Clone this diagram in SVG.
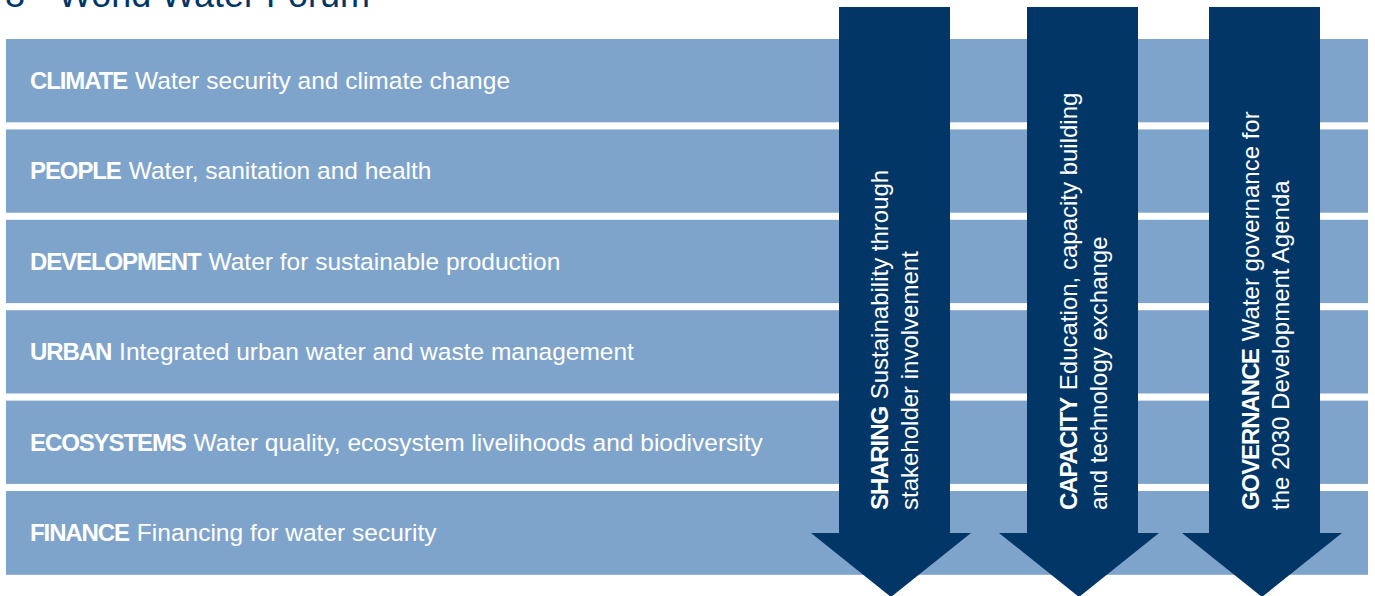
<svg xmlns="http://www.w3.org/2000/svg" width="1375" height="596" viewBox="0 0 1375 596">
<style>
.band{fill:#7FA4CB}
.arrow{fill:#023667}
.t{font-family:"Liberation Sans",Arial,sans-serif;font-size:24px;fill:#ffffff}
.b{font-weight:bold;letter-spacing:-1.1px}
.r{font-size:24.5px}
.title{font-family:"Liberation Sans",Arial,sans-serif;font-size:36px;fill:#023667}
</style>
<rect width="1375" height="596" fill="#ffffff"/>
<g id="title">
<text class="title" x="5" y="7">8</text>
<text class="title" x="58" y="7">World Water Forum</text>
</g>
<g id="band-climate">
<rect class="band" x="6" y="39" width="1362" height="83.3"/>
<text class="t" x="30" y="89"><tspan class="b">CLIMATE</tspan><tspan class="r" dx="1.1"> Water security and climate change</tspan></text>
</g>
<g id="band-people">
<rect class="band" x="6" y="129.4" width="1362" height="83.3"/>
<text class="t" x="30" y="179.4"><tspan class="b">PEOPLE</tspan><tspan class="r" dx="1.1"> Water, sanitation and health</tspan></text>
</g>
<g id="band-development">
<rect class="band" x="6" y="219.8" width="1362" height="83.3"/>
<text class="t" x="30" y="269.8"><tspan class="b">DEVELOPMENT</tspan><tspan class="r" dx="1.1"> Water for sustainable production</tspan></text>
</g>
<g id="band-urban">
<rect class="band" x="6" y="310.2" width="1362" height="83.3"/>
<text class="t" x="30" y="360.2"><tspan class="b">URBAN</tspan><tspan class="r" dx="1.1"> Integrated urban water and waste management</tspan></text>
</g>
<g id="band-ecosystems">
<rect class="band" x="6" y="400.6" width="1362" height="83.3"/>
<text class="t" x="30" y="450.6"><tspan class="b">ECOSYSTEMS</tspan><tspan class="r" dx="1.1"> Water quality, ecosystem livelihoods and biodiversity</tspan></text>
</g>
<g id="band-finance">
<rect class="band" x="6" y="491" width="1362" height="83.8"/>
<text class="t" x="30" y="541"><tspan class="b">FINANCE</tspan><tspan class="r" dx="1.1"> Financing for water security</tspan></text>
</g>
<g id="arrow-sharing">
<path class="arrow" d="M839,7 H950 V533 H971 L891,597 L811,533 H839 Z"/>
<text class="t" transform="translate(888,510) rotate(-90)"><tspan class="b">SHARING</tspan><tspan dx="1.1"> Sustainability through</tspan></text>
<text class="t" transform="translate(918,510) rotate(-90)">stakeholder involvement</text>
</g>
<g id="arrow-capacity">
<path class="arrow" d="M1027,7 H1138 V533 H1159 L1079,597 L999,533 H1027 Z"/>
<text class="t" transform="translate(1077,510) rotate(-90)"><tspan class="b">CAPACITY</tspan><tspan dx="1.1"> Education, capacity building</tspan></text>
<text class="t" transform="translate(1107,510) rotate(-90)">and technology exchange</text>
</g>
<g id="arrow-governance">
<path class="arrow" d="M1209,7 H1320 V533 H1342 L1262,597 L1182,533 H1209 Z"/>
<text class="t" transform="translate(1259,510) rotate(-90)"><tspan class="b">GOVERNANCE</tspan><tspan dx="1.1"> Water governance for</tspan></text>
<text class="t" transform="translate(1289,510) rotate(-90)">the 2030 Development Agenda</text>
</g>
<g id="connectors"></g>
</svg>
